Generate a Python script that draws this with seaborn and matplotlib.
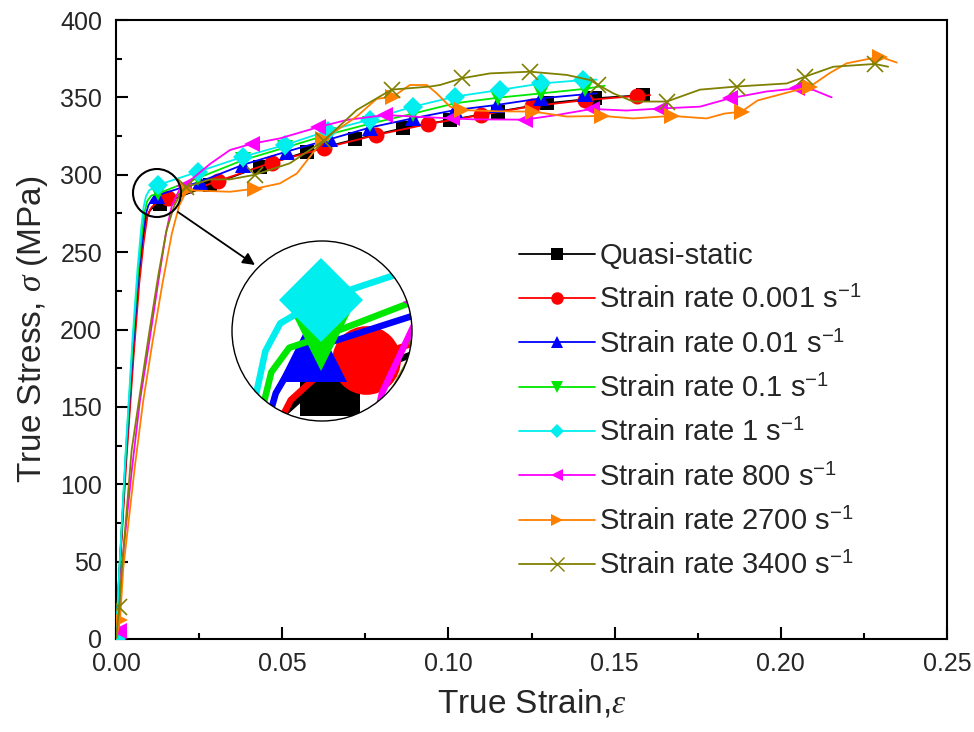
import numpy as np
import pandas as pd
import matplotlib
matplotlib.use("Agg")
import matplotlib.pyplot as plt
from matplotlib.lines import Line2D
from matplotlib.patches import Circle, Ellipse
from matplotlib.ticker import MultipleLocator, FormatStrFormatter
import seaborn as sns

# ---------------- data ----------------
labels = ["Quasi-static",
          "Strain rate 0.001 s$^{\\mathregular{-1}}$",
          "Strain rate 0.01 s$^{\\mathregular{-1}}$",
          "Strain rate 0.1 s$^{\\mathregular{-1}}$",
          "Strain rate 1 s$^{\\mathregular{-1}}$",
          "Strain rate 800 s$^{\\mathregular{-1}}$",
          "Strain rate 2700 s$^{\\mathregular{-1}}$",
          "Strain rate 3400 s$^{\\mathregular{-1}}$"]

qs_strain = [0, 0.001, 0.003, 0.0052, 0.0068, 0.0081, 0.0092, 0.0102, 0.0115, 0.0133, 0.0283,
             0.0433, 0.0576, 0.0719, 0.0862, 0.1005, 0.115, 0.1296, 0.1441, 0.1586, 0.160]
qs_stress = [0, 42, 117, 185, 232, 258, 272, 277, 279.5, 281, 293.4,
             305.2, 315, 322.8, 330, 335.4, 340.8, 346.2, 349.4, 351.5, 351.7]
qs_mark_at = [0, 0.0133, 0.0283, 0.0433, 0.0576, 0.0719, 0.0862, 0.1005, 0.115,
              0.1296, 0.1441, 0.1586]

r0001_strain = [0, 0.001, 0.0031, 0.0053, 0.007, 0.0083, 0.0095, 0.0107, 0.0125, 0.0157, 0.0308,
                0.0468, 0.0627, 0.0783, 0.094, 0.1097, 0.1252, 0.1411, 0.1566, 0.1607]
r0001_stress = [0, 40, 115, 183, 230, 256, 274, 279, 282.5, 284.8, 296,
                307.8, 317.3, 325.7, 332.8, 338.6, 344.3, 348.2, 350.9, 351.5]
r0001_mark_at = [0, 0.0157, 0.0308, 0.0468, 0.0627, 0.0783, 0.094, 0.1097, 0.1252,
                 0.1411, 0.1566]

r001_strain = [0, 0.001, 0.003, 0.0051, 0.0067, 0.008, 0.0089, 0.0097, 0.0108, 0.0122, 0.0253,
               0.0383, 0.0514, 0.0644, 0.0764, 0.0894, 0.102, 0.1145, 0.128, 0.141, 0.1446]
r001_stress = [0, 43, 120, 188, 234, 260, 274, 280, 284, 286.5, 295.5,
               306.5, 315, 323, 330.5, 336.5, 341.8, 345.1, 349.4, 352, 352.6]
r001_mark_at = [0, 0.0122, 0.0253, 0.0383, 0.0514, 0.0644, 0.0764, 0.0894, 0.102,
                0.1145, 0.128, 0.141]

r01_strain = [0, 0.001, 0.003, 0.005, 0.0066, 0.0078, 0.0086, 0.0094, 0.0106, 0.0127, 0.0248,
              0.0383, 0.0508, 0.0639, 0.0764, 0.0894, 0.102, 0.115, 0.128, 0.141, 0.147]
r01_stress = [0, 44, 122, 190, 236, 262, 276, 283, 286.5, 288, 298,
              309.5, 317.5, 326, 333, 339.5, 346.2, 349.8, 352.6, 355.5, 357.5]
r01_mark_at = [0, 0.0127, 0.0248, 0.0383, 0.0508, 0.0639, 0.0764, 0.0894, 0.102,
               0.115, 0.128, 0.141]

r1_strain = [0, 0.001, 0.003, 0.005, 0.0065, 0.0076, 0.0083, 0.0090, 0.0100, 0.0127, 0.0248,
             0.0383, 0.0508, 0.0639, 0.0764, 0.0894, 0.102, 0.1155, 0.128, 0.1406, 0.1446]
r1_stress = [0, 45, 125, 195, 240, 266, 279, 286, 290, 293.4, 302,
             311.7, 319.2, 328.5, 335.7, 344, 350.5, 354.8, 359, 361.2, 361.5]
r1_mark_at = [0, 0.0127, 0.0248, 0.0383, 0.0508, 0.0639, 0.0764, 0.0894, 0.102,
              0.1155, 0.128, 0.1406]

r800_strain = [0, 0.0008, 0.0017, 0.0048, 0.0072, 0.0100, 0.0128, 0.0150, 0.0168, 0.0190, 0.0205,
               0.0283, 0.0343, 0.0408, 0.0493, 0.0609, 0.0694, 0.081, 0.0905, 0.101, 0.1075,
               0.123, 0.1326, 0.1431, 0.1536, 0.1637, 0.1757, 0.1847, 0.1957, 0.2048, 0.2098, 0.2153]
r800_stress = [0, 5, 46, 110, 154, 192, 232, 262, 280, 290, 293,
               307, 316, 320, 323.5, 330.8, 335.4, 338.6, 337.5, 336.4, 335.8,
               335.6, 338.6, 342.5, 341.5, 342.8, 344, 349.4, 353.8, 355.8, 354.8, 350]
r800_mark_at = [0.0008, 0.0205, 0.0408, 0.0609, 0.081, 0.101, 0.123, 0.1431, 0.1637,
                0.1847, 0.2048]

r2700_strain = [0, 0.0012, 0.0022, 0.0057, 0.0082, 0.0110, 0.0140, 0.0168, 0.0190, 0.0213,
                0.0343, 0.0418, 0.0493, 0.0544, 0.0624, 0.0724, 0.0784, 0.0834, 0.0884, 0.0935,
                0.0965, 0.1005, 0.104, 0.1150, 0.1256, 0.1356, 0.1461, 0.1556, 0.1672, 0.1777,
                0.1830, 0.1882, 0.1930, 0.2000, 0.2088, 0.2148, 0.2198, 0.2298, 0.2349]
r2700_stress = [0, 12, 46, 112, 154, 192, 230, 262, 280, 290,
                289, 291, 294.4, 300.8, 322.8, 337.6, 349, 350.5, 358, 358,
                352.6, 344, 341.8, 341, 340.8, 337.6, 338, 336.4, 338, 336.4,
                339.5, 340.8, 348, 352, 357, 365.8, 372, 376.3, 372.5]
r2700_mark_at = [0.0012, 0.0213, 0.0418, 0.0624, 0.0834, 0.104, 0.1256, 0.1461, 0.1672,
                 0.1882, 0.2088, 0.2298]

r3400_strain = [0, 0.001, 0.0018, 0.0047, 0.0069, 0.0100, 0.0128, 0.0152, 0.0175, 0.0195, 0.0211,
                0.0283, 0.0343, 0.0418, 0.0523, 0.0625, 0.0724, 0.0829, 0.0945, 0.0975, 0.104,
                0.1125, 0.1246, 0.1356, 0.1426, 0.1451, 0.1496, 0.1556, 0.1657, 0.1757, 0.1867,
                0.2018, 0.2073, 0.2158, 0.2283, 0.2323]
r3400_stress = [0, 21, 46, 122, 154, 198, 236, 264, 280, 288, 292,
                297, 297, 300, 307.4, 322, 341.8, 355, 357, 358, 362.3,
                365.5, 366.6, 364.5, 361.2, 358, 352.6, 347.3, 347.3, 355, 357,
                359, 363.4, 369.8, 371.6, 369.8]
r3400_mark_at = [0.001, 0.0211, 0.0418, 0.0625, 0.0829, 0.104, 0.1246, 0.1451, 0.1657,
                 0.1867, 0.2073, 0.2283]

series_strain = [qs_strain, r0001_strain, r001_strain, r01_strain, r1_strain,
                 r800_strain, r2700_strain, r3400_strain]
series_stress = [qs_stress, r0001_stress, r001_stress, r01_stress, r1_stress,
                 r800_stress, r2700_stress, r3400_stress]
series_mark_at = [qs_mark_at, r0001_mark_at, r001_mark_at, r01_mark_at, r1_mark_at,
                  r800_mark_at, r2700_mark_at, r3400_mark_at]

x_ticks = [0.00, 0.05, 0.10, 0.15, 0.20, 0.25]
y_ticks = [0, 50, 100, 150, 200, 250, 300, 350, 400]

# ---------------- styles ----------------
colors = ["#000000", "#ff0000", "#0000ff", "#00e800", "#00eeee", "#ff00ff", "#ff8000", "#808000"]
markers = ["s", "o", "^", "v", "D", "<", ">", "x"]
msizes = [10, 11.5, 11.5, 11.5, 10, 11.5, 11.5, 12]
lsizes = [8, 9, 9, 9, 7.5, 9, 9, 10]

sns.set_theme(style="white")
plt.rcParams["font.family"] = ["Liberation Sans", "DejaVu Sans"]
plt.rcParams["mathtext.fontset"] = "custom"
plt.rcParams["mathtext.rm"] = "Liberation Sans"
plt.rcParams["mathtext.it"] = "Liberation Serif:italic"
plt.rcParams["mathtext.bf"] = "Liberation Sans:bold"

W, H = 974, 732
fig = plt.figure(figsize=(W / 100, H / 100), dpi=100)
ax = fig.add_axes([116 / W, 1 - 639 / H, (947 - 116) / W, (639 - 20) / H])


def draw(axis, scale=1.0, lw=1.3):
    arts = []
    for i in range(len(labels)):
        xs = series_strain[i]
        df = pd.DataFrame({"strain": xs, "stress": series_stress[i]})
        mk = [xs.index(v) for v in series_mark_at[i]]
        before = len(axis.lines)
        sns.lineplot(data=df, x="strain", y="stress", ax=axis, color=colors[i],
                     sort=False, estimator=None, lw=lw * scale,
                     marker=markers[i], markevery=mk,
                     markersize=msizes[i] * scale,
                     markeredgewidth=(1.2 * scale if markers[i] == "x" else 0),
                     markeredgecolor=colors[i], legend=False, zorder=3 + i * 0.01)
        arts.extend(axis.lines[before:])
    return arts


draw(ax)

ax.set_xlim(0, 0.25)
ax.set_ylim(0, 400)
ax.set_xticks(x_ticks)
ax.set_yticks(y_ticks)
ax.xaxis.set_major_formatter(FormatStrFormatter("%.2f"))
ax.xaxis.set_minor_locator(MultipleLocator(0.025))
ax.yaxis.set_minor_locator(MultipleLocator(25))
ax.tick_params(which="both", direction="in", top=False, right=False,
               left=True, bottom=True, width=1.5, color="black", labelsize=18)
ax.tick_params(which="major", length=8.6)
ax.tick_params(which="minor", length=4.3)
ax.tick_params(axis="x", pad=9.5)
ax.tick_params(axis="y", pad=10)
for sp in ax.spines.values():
    sp.set_linewidth(1.5)
    sp.set_color("black")
    sp.set_visible(True)
ax.set_xlabel("True Strain,$\\varepsilon$", fontsize=24, labelpad=8)
ax.set_ylabel("True Stress, $\\sigma$ (MPa)", fontsize=24, labelpad=7)

# legend
handles = [Line2D([0], [0], color=colors[i], lw=1.3, marker=markers[i], markersize=lsizes[i],
                  markeredgewidth=(1.0 if markers[i] == "x" else 0), markeredgecolor=colors[i])
           for i in range(len(labels))]
fig.legend(handles, labels, loc="upper left", bbox_to_anchor=(519 / W, 1 - 242 / H),
           frameon=False, fontsize=21, handlelength=2.6, handletextpad=0.15,
           labelspacing=0.56, borderpad=0, borderaxespad=0)

# small circle marking the magnified region
ax.add_patch(Ellipse((0.01233, 288.2), width=48 / 3324, height=48 / 1.5475,
                     fill=False, edgecolor="black", lw=1.5, zorder=10))
ax.annotate("", xy=(0.0418, 241.7), xytext=(0.01865, 275.9),
            arrowprops=dict(arrowstyle="-|>", color="black", lw=1.3, mutation_scale=18,
                            shrinkA=0, shrinkB=0), zorder=10)

# magnified circular inset
ax_in = fig.add_axes([232 / W, 1 - 421 / H, 180 / W, 180 / H])
ax_in.set_xlim(0.01279 - 0.00602, 0.01279 + 0.00602)
ax_in.set_ylim(288.9 - 12.9, 288.9 + 12.9)
ax_in.axis("off")
bg = Circle((0.5, 0.5), 0.5, transform=ax_in.transAxes, facecolor="white",
            edgecolor="none", zorder=0)
ax_in.add_patch(bg)
arts = draw(ax_in, scale=4.3, lw=1.1)
for a in arts:
    a.set_clip_path(bg)
ring = Circle((0.5, 0.5), 0.5, transform=ax_in.transAxes, fill=False,
              edgecolor="black", lw=1.0, zorder=20, clip_on=False)
ax_in.add_patch(ring)

fig.savefig("out.png", dpi=100, facecolor="white")
